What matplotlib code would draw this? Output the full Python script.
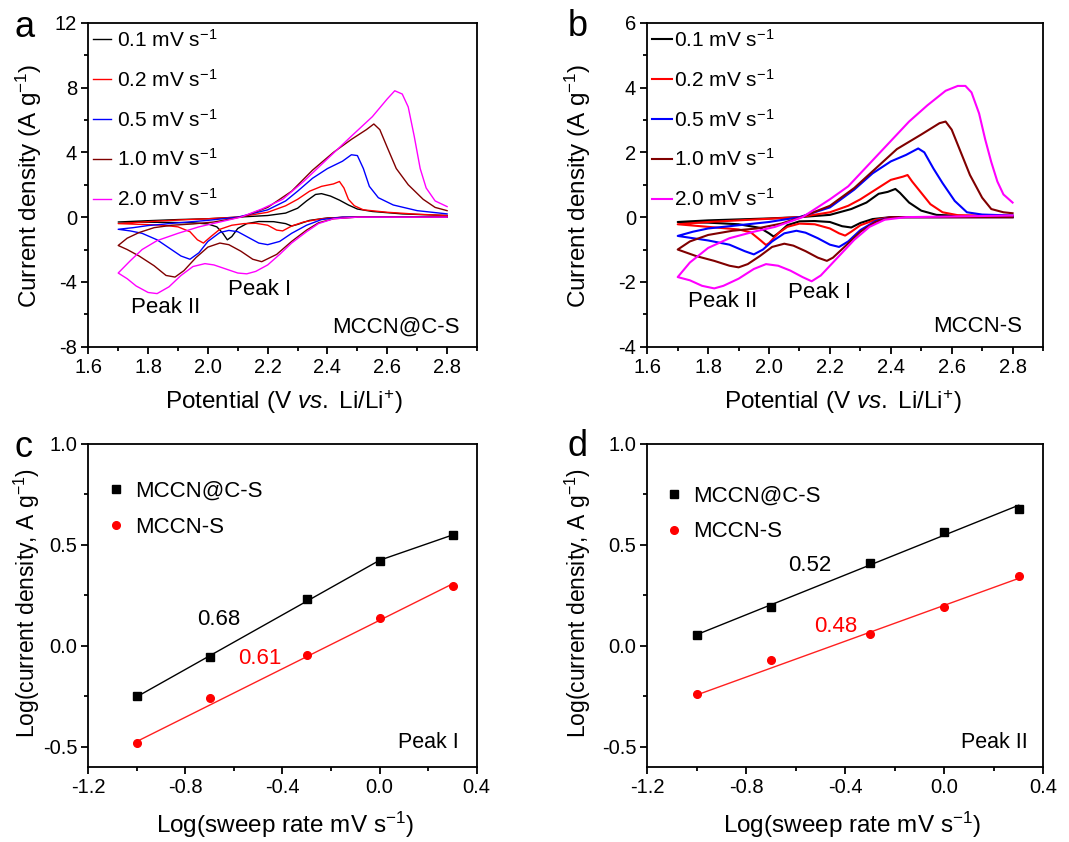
import numpy as np
import matplotlib.pyplot as plt
from matplotlib.ticker import MultipleLocator, FormatStrFormatter

plt.rcParams['font.family'] = ['Liberation Sans', 'DejaVu Sans']
plt.rcParams['mathtext.fontset'] = 'custom'
plt.rcParams['mathtext.rm'] = 'Liberation Sans'
plt.rcParams['mathtext.it'] = 'Liberation Sans:italic'
plt.rcParams['mathtext.default'] = 'regular'
plt.rcParams['axes.unicode_minus'] = False

rates = ['0.1', '0.2', '0.5', '1.0', '2.0']
colors = ['#000000', '#ff0000', '#0000ff', '#800000', '#ff00ff']

# ---- panel a: MCCN@C-S, (potential V, current A/g), cathodic then anodic ----
a_01_cath = [(2.80, 0.0), (2.50, 0.0), (2.40, -0.05), (2.34, -0.2), (2.30, -0.45), (2.28, -0.55), (2.26, -0.4),
             (2.22, -0.28), (2.17, -0.27), (2.13, -0.4), (2.10, -0.7), (2.08, -1.2), (2.065, -1.4), (2.05, -1.0),
             (2.03, -0.6), (2.00, -0.42), (1.95, -0.35), (1.85, -0.32), (1.70, -0.3)]
a_01_anod = [(1.70, -0.3), (1.80, -0.22), (1.90, -0.15), (2.00, -0.1), (2.10, 0.0), (2.20, 0.1), (2.26, 0.25),
             (2.30, 0.55), (2.33, 1.0), (2.36, 1.4), (2.38, 1.45), (2.41, 1.3), (2.44, 1.05), (2.47, 0.75),
             (2.50, 0.5), (2.55, 0.35), (2.65, 0.2), (2.80, 0.1)]
a_02_cath = [(2.80, 0.0), (2.45, 0.0), (2.38, -0.1), (2.32, -0.3), (2.28, -0.55), (2.25, -0.85), (2.23, -0.8),
             (2.20, -0.5), (2.16, -0.38), (2.12, -0.4), (2.08, -0.5), (2.04, -0.75), (2.01, -1.2), (1.985, -1.6),
             (1.965, -1.4), (1.94, -0.9), (1.90, -0.6), (1.85, -0.5), (1.78, -0.45), (1.70, -0.4)]
a_02_anod = [(1.70, -0.4), (1.80, -0.28), (1.90, -0.18), (2.00, -0.1), (2.10, 0.0), (2.20, 0.3), (2.26, 0.7),
             (2.30, 1.1), (2.34, 1.6), (2.38, 1.9), (2.42, 2.05), (2.44, 2.2), (2.455, 1.8), (2.47, 1.1),
             (2.49, 0.7), (2.52, 0.45), (2.60, 0.3), (2.70, 0.18), (2.80, 0.1)]
a_05_cath = [(2.80, 0.0), (2.45, 0.0), (2.38, -0.15), (2.33, -0.5), (2.28, -1.0), (2.24, -1.5), (2.20, -1.7),
             (2.17, -1.6), (2.13, -1.2), (2.10, -0.9), (2.07, -0.82), (2.04, -0.95), (2.00, -1.5), (1.97, -2.2),
             (1.94, -2.6), (1.91, -2.4), (1.87, -1.9), (1.83, -1.4), (1.78, -1.0), (1.74, -0.85), (1.70, -0.75)]
a_05_anod = [(1.70, -0.75), (1.75, -0.65), (1.80, -0.52), (1.90, -0.35), (2.00, -0.2), (2.10, 0.0), (2.20, 0.45),
             (2.26, 1.0), (2.30, 1.6), (2.35, 2.4), (2.40, 3.0), (2.45, 3.45), (2.48, 3.85), (2.50, 3.8),
             (2.52, 3.0), (2.54, 1.9), (2.57, 1.2), (2.62, 0.75), (2.70, 0.4), (2.80, 0.2)]
a_10_cath = [(2.80, 0.0), (2.50, 0.0), (2.42, -0.1), (2.37, -0.35), (2.33, -0.8), (2.28, -1.5), (2.23, -2.3),
             (2.18, -2.75), (2.15, -2.6), (2.11, -2.1), (2.07, -1.7), (2.04, -1.6), (2.00, -1.85), (1.96, -2.5),
             (1.92, -3.3), (1.89, -3.7), (1.86, -3.6), (1.82, -3.0), (1.77, -2.4), (1.73, -2.0), (1.70, -1.75)]
a_10_anod = [(1.70, -1.75), (1.73, -1.3), (1.77, -0.95), (1.82, -0.65), (1.88, -0.5), (1.95, -0.42), (2.02, -0.3),
             (2.08, -0.1), (2.12, 0.05), (2.20, 0.6), (2.28, 1.6), (2.35, 2.9), (2.42, 4.0), (2.48, 4.8),
             (2.53, 5.4), (2.555, 5.75), (2.575, 5.4), (2.60, 4.3), (2.63, 3.0), (2.67, 2.0), (2.72, 1.1),
             (2.76, 0.6), (2.80, 0.4)]
a_20_cath = [(2.80, 0.0), (2.50, 0.0), (2.42, -0.1), (2.37, -0.4), (2.33, -0.9), (2.28, -1.6), (2.24, -2.3),
             (2.20, -2.95), (2.16, -3.35), (2.13, -3.5), (2.10, -3.45), (2.06, -3.2), (2.02, -2.95), (1.99, -2.87),
             (1.95, -3.05), (1.91, -3.6), (1.87, -4.3), (1.83, -4.72), (1.80, -4.65), (1.76, -4.25), (1.73, -3.8),
             (1.70, -3.45)]
a_20_anod = [(1.70, -3.45), (1.74, -2.7), (1.78, -2.0), (1.83, -1.45), (1.90, -1.0), (1.97, -0.6), (2.04, -0.3),
             (2.11, 0.0), (2.18, 0.5), (2.25, 1.1), (2.32, 2.2), (2.40, 3.6), (2.48, 5.0), (2.55, 6.2), (2.60, 7.3),
             (2.625, 7.8), (2.65, 7.6), (2.67, 6.8), (2.69, 5.0), (2.71, 3.0), (2.73, 1.8), (2.76, 1.0), (2.80, 0.65)]

# ---- panel b: MCCN-S ----
b_01_cath = [(2.80, 0.0), (2.40, 0.0), (2.34, -0.06), (2.30, -0.18), (2.27, -0.32), (2.24, -0.28), (2.20, -0.15),
             (2.15, -0.12), (2.10, -0.13), (2.06, -0.25), (2.03, -0.5), (2.015, -0.6), (2.00, -0.5), (1.97, -0.33),
             (1.90, -0.22), (1.80, -0.17), (1.70, -0.15)]
b_01_anod = [(1.70, -0.15), (1.80, -0.1), (1.90, -0.07), (2.00, -0.04), (2.10, 0.0), (2.20, 0.07), (2.27, 0.25),
             (2.32, 0.45), (2.36, 0.72), (2.39, 0.78), (2.415, 0.87), (2.43, 0.75), (2.46, 0.45), (2.50, 0.2),
             (2.55, 0.07), (2.65, 0.03), (2.80, 0.02)]
b_02_cath = [(2.80, 0.0), (2.40, 0.0), (2.35, -0.08), (2.30, -0.25), (2.27, -0.45), (2.25, -0.57), (2.23, -0.5),
             (2.20, -0.35), (2.15, -0.22), (2.10, -0.2), (2.06, -0.3), (2.03, -0.5), (2.00, -0.8), (1.99, -0.86),
             (1.97, -0.7), (1.94, -0.47), (1.90, -0.38), (1.80, -0.3), (1.70, -0.22)]
b_02_anod = [(1.70, -0.22), (1.80, -0.15), (1.90, -0.1), (2.00, -0.05), (2.10, 0.0), (2.20, 0.15), (2.26, 0.35),
             (2.30, 0.55), (2.35, 0.85), (2.40, 1.15), (2.44, 1.25), (2.455, 1.3), (2.47, 1.1), (2.50, 0.75),
             (2.53, 0.4), (2.57, 0.15), (2.62, 0.06), (2.80, 0.04)]
b_05_cath = [(2.80, 0.0), (2.40, 0.0), (2.35, -0.12), (2.30, -0.4), (2.26, -0.75), (2.23, -0.92), (2.20, -0.85),
             (2.16, -0.65), (2.12, -0.48), (2.09, -0.42), (2.05, -0.5), (2.01, -0.75), (1.98, -1.0), (1.95, -1.15),
             (1.92, -1.05), (1.87, -0.85), (1.80, -0.72), (1.75, -0.65), (1.70, -0.58)]
b_05_anod = [(1.70, -0.58), (1.75, -0.45), (1.80, -0.35), (1.90, -0.25), (2.00, -0.15), (2.10, 0.0), (2.20, 0.3),
             (2.28, 0.85), (2.34, 1.35), (2.40, 1.72), (2.45, 1.92), (2.49, 2.12), (2.51, 2.0), (2.54, 1.5),
             (2.57, 1.05), (2.61, 0.5), (2.65, 0.15), (2.70, 0.08), (2.80, 0.05)]
b_10_cath = [(2.80, 0.0), (2.40, 0.0), (2.35, -0.15), (2.30, -0.45), (2.25, -0.9), (2.21, -1.25), (2.19, -1.35),
             (2.16, -1.25), (2.12, -1.05), (2.08, -0.88), (2.05, -0.82), (2.01, -0.92), (1.97, -1.2), (1.93, -1.45),
             (1.90, -1.55), (1.87, -1.5), (1.82, -1.35), (1.76, -1.2), (1.70, -1.0)]
b_10_anod = [(1.70, -1.0), (1.74, -0.75), (1.80, -0.55), (1.88, -0.42), (1.96, -0.35), (2.04, -0.2), (2.10, -0.02),
             (2.20, 0.35), (2.28, 0.9), (2.35, 1.5), (2.42, 2.1), (2.50, 2.55), (2.56, 2.9), (2.58, 2.95),
             (2.60, 2.7), (2.63, 2.0), (2.66, 1.3), (2.70, 0.6), (2.73, 0.25), (2.77, 0.15), (2.80, 0.12)]
b_20_cath = [(2.80, 0.05), (2.60, 0.02), (2.45, 0.0), (2.38, -0.08), (2.33, -0.3), (2.28, -0.7), (2.24, -1.1),
             (2.20, -1.5), (2.17, -1.8), (2.14, -1.98), (2.11, -1.85), (2.07, -1.65), (2.03, -1.5), (1.99, -1.45),
             (1.95, -1.6), (1.90, -1.9), (1.85, -2.12), (1.82, -2.2), (1.78, -2.12), (1.74, -1.95), (1.70, -1.85)]
b_20_anod = [(1.70, -1.85), (1.74, -1.4), (1.80, -0.95), (1.87, -0.65), (1.95, -0.45), (2.02, -0.3), (2.11, 0.0),
             (2.20, 0.55), (2.26, 0.95), (2.34, 1.75), (2.40, 2.35), (2.46, 2.95), (2.52, 3.45), (2.58, 3.9),
             (2.62, 4.05), (2.645, 4.05), (2.665, 3.85), (2.69, 3.2), (2.71, 2.4), (2.73, 1.7), (2.75, 1.1),
             (2.77, 0.7), (2.80, 0.45)]

# ---- panels c/d: log(peak current) vs log(sweep rate) ----
log_rate = [-1.0, -0.699, -0.301, 0.0, 0.301]
c_mccn_c = [-0.25, -0.058, 0.23, 0.419, 0.549]
c_mccn = [-0.48, -0.258, -0.048, 0.135, 0.296]
d_mccn_c = [0.053, 0.194, 0.41, 0.566, 0.679]
d_mccn = [-0.238, -0.072, 0.056, 0.194, 0.344]

fig = plt.figure(figsize=(10.69, 8.42), dpi=100)
ax_a = fig.add_axes([0.0826, 0.5882, 0.3636, 0.3848])
ax_b = fig.add_axes([0.6055, 0.5882, 0.3702, 0.3848])
ax_c = fig.add_axes([0.0826, 0.0894, 0.3633, 0.3833])
ax_d = fig.add_axes([0.6055, 0.0894, 0.3704, 0.3833])


def style(ax, xlim, ylim, xmaj, xmin, ymaj, ymin, xfmt, yfmt):
    ax.set_xlim(*xlim)
    ax.set_ylim(*ylim)
    ax.xaxis.set_major_locator(MultipleLocator(xmaj))
    ax.xaxis.set_minor_locator(MultipleLocator(xmin))
    ax.yaxis.set_major_locator(MultipleLocator(ymaj))
    ax.yaxis.set_minor_locator(MultipleLocator(ymin))
    ax.xaxis.set_major_formatter(FormatStrFormatter(xfmt))
    ax.yaxis.set_major_formatter(FormatStrFormatter(yfmt))
    ax.tick_params(which='major', direction='out', length=5, width=1.3, labelsize=14.5, pad=3)
    ax.tick_params(which='minor', direction='out', length=3, width=1.3)
    for s in ax.spines.values():
        s.set_linewidth(1.3)


def cv_panel(ax, loops, lw, ylim, ymaj, title, title_x, peak2, peak1, hl, htp):
    for (cath, anod), rate, col in zip(loops, rates, colors):
        pts = np.array(cath + anod)
        ax.plot(pts[:, 0], pts[:, 1], color=col, lw=lw, label=rate + ' mV s$^{-1}$')
    style(ax, (1.6, 2.9), ylim, 0.2, 0.1, ymaj, ymaj / 2, '%.1f', '%d')
    ax.legend(loc='upper left', bbox_to_anchor=(0.012, 0.981), frameon=False, fontsize=15,
              handlelength=hl, handletextpad=htp, labelspacing=0.86, borderpad=0, borderaxespad=0)
    ax.text(title_x, 0.044, title, transform=ax.transAxes, ha='right', va='baseline', fontsize=16)
    ax.text(peak2[0], peak2[1], 'Peak II', ha='center', va='baseline', fontsize=16)
    ax.text(peak1[0], peak1[1], 'Peak I', ha='center', va='baseline', fontsize=16)
    ax.set_xlabel('Potential (V $\\mathit{vs.}$ Li/Li$^{+}$)', fontsize=17.5)
    ax.set_ylabel('Current density (A g$^{-1}$)', fontsize=17.5)


cv_panel(ax_a, [(a_01_cath, a_01_anod), (a_02_cath, a_02_anod), (a_05_cath, a_05_anod),
                (a_10_cath, a_10_anod), (a_20_cath, a_20_anod)],
         1.0, (-8, 12), 4, 'MCCN@C-S', 0.955, (1.86, -5.94), (2.174, -4.81), 0.85, 0.3)
cv_panel(ax_b, [(b_01_cath, b_01_anod), (b_02_cath, b_02_anod), (b_05_cath, b_05_anod),
                (b_10_cath, b_10_anod), (b_20_cath, b_20_anod)],
         1.5, (-4, 6), 2, 'MCCN-S', 0.948, (1.848, -2.77), (2.165, -2.49), 0.95, 0.1)
ax_a.yaxis.set_label_coords(-0.115, 0.496)
ax_b.yaxis.set_label_coords(-0.138, 0.496)
ax_a.xaxis.set_label_coords(0.503, -0.128)
ax_b.xaxis.set_label_coords(0.493, -0.128)

x = np.array(log_rate)


def fit_line(xs, ys):
    k, b = np.polyfit(xs, ys, 1)
    return k, b


def log_panel(ax, black, red, black_lines, red_lines, k_black, k_red, pos_black, pos_red,
              peak, peak_x, leg_xy):
    for xs, ys in black_lines:
        ax.plot(xs, ys, color='#000000', lw=1.0)
    for xs, ys in red_lines:
        ax.plot(xs, ys, color='#ff2020', lw=1.0)
    ax.plot(x, black, ls='none', marker='s', ms=5.2, color='#000000', label='MCCN@C-S')
    ax.plot(x, red, ls='none', marker='o', ms=5.5, color='#ff0000', label='MCCN-S')
    style(ax, (-1.2, 0.4), (-0.6, 1.0), 0.4, 0.2, 0.5, 0.25, '%.1f', '%.1f')
    ax.legend(loc='upper left', bbox_to_anchor=leg_xy, frameon=False, fontsize=16,
              handlelength=0.6, handletextpad=0.55, labelspacing=0.65, borderpad=0, borderaxespad=0,
              numpoints=1)
    ax.text(pos_black[0], pos_black[1], k_black, ha='center', va='baseline', fontsize=16, color='#000000')
    ax.text(pos_red[0], pos_red[1], k_red, ha='center', va='baseline', fontsize=16, color='#ff0000')
    ax.text(peak_x, 0.057, peak, transform=ax.transAxes, ha='right', va='baseline', fontsize=15.5)
    ax.set_xlabel('Log(sweep rate mV s$^{-1}$)', fontsize=17.5)
    ax.set_ylabel('Log(current density, A g$^{-1}$)', fontsize=16.5)


# panel c: black fit over first four points, then joined to the last one
kc, bc = fit_line(x[:4], c_mccn_c[:4])
c_black_lines = [([x[0], x[3]], [kc * x[0] + bc, kc * x[3] + bc]),
                 ([x[3], x[4]], [kc * x[3] + bc, c_mccn_c[4]])]
keep = [0, 2, 3, 4]
kr, br = fit_line(x[keep], np.array(c_mccn)[keep])
c_red_lines = [([x[0], x[4]], [kr * x[0] + br, kr * x[4] + br])]
log_panel(ax_c, c_mccn_c, c_mccn, c_black_lines, c_red_lines, '0.68', '0.61',
          (-0.662, 0.105), (-0.495, -0.089), 'Peak I', 0.955, (0.055, 0.885))

kd, bd = fit_line(x, d_mccn_c)
d_black_lines = [([x[0], x[4]], [kd * x[0] + bd, kd * x[4] + bd])]
kr2, br2 = fit_line(x[keep], np.array(d_mccn)[keep])
d_red_lines = [([x[0], x[4]], [kr2 * x[0] + br2, kr2 * x[4] + br2])]
log_panel(ax_d, d_mccn_c, d_mccn, d_black_lines, d_red_lines, '0.52', '0.48',
          (-0.544, 0.372), (-0.44, 0.067), 'Peak II', 0.962, (0.05, 0.87))
ax_c.yaxis.set_label_coords(-0.12, 0.509)
ax_d.yaxis.set_label_coords(-0.136, 0.506)
ax_c.xaxis.set_label_coords(0.506, -0.135)
ax_d.xaxis.set_label_coords(0.517, -0.135)

for lab, px, py in [('a', 0.014, 0.956), ('b', 0.531, 0.957), ('c', 0.014, 0.457), ('d', 0.531, 0.458)]:
    fig.text(px, py, lab, fontsize=26, ha='left', va='baseline')

fig.savefig('out.png', dpi=100)
